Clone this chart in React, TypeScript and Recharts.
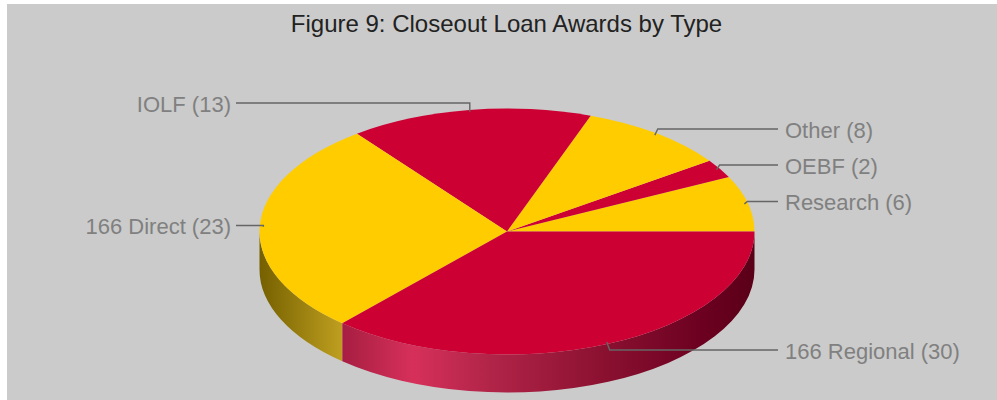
import React from "react";
import { PieChart, Pie } from "recharts";

const categories = ["Research", "OEBF", "Other", "IOLF", "166 Direct", "166 Regional"];
const awards = [6, 2, 8, 13, 23, 30];
const kinds = ["gold", "red", "gold", "red", "gold", "red"];

const rows = categories.map((name, i) => ({ name, value: awards[i], kind: kinds[i] }));

const WIDTH = 990;
const HEIGHT = 396;
const CX = 500;
const CY = 227.5;
const RX = 247.5;
const RY = 123;
const DEPTH = 38;
const RAD = Math.PI / 180;

const TOP_FILL: Record<string, string> = { gold: "#ffcc00", red: "#cc0033" };
const WALL_FILL: Record<string, string> = { gold: "url(#wallGold)", red: "url(#wallRed)" };

// Height of the horizontal run of each leader.
const LEADER_Y: Record<string, number> = {
  Research: 197.5,
  OEBF: 161,
  Other: 125,
  IOLF: 99,
  "166 Direct": 221.5,
  "166 Regional": 346,
};

const px = (deg: number, k = 1) => CX + k * RX * Math.cos(deg * RAD);
const py = (deg: number, k = 1) => CY - k * RY * Math.sin(deg * RAD);

// Elliptical top face plus, where it faces the viewer, the rim below it.
function Slice(props: any) {
  const { startAngle, endAngle, payload } = props;
  const kind = props.kind ?? payload?.kind;
  const large = Math.abs(endAngle - startAngle) > 180 ? 1 : 0;
  const top = `M${CX},${CY} L${px(startAngle)},${py(startAngle)} A${RX},${RY} 0 ${large} 0 ${px(endAngle)},${py(endAngle)} Z`;
  const from = Math.max(startAngle, 180);
  const to = Math.min(endAngle, 360);
  const wall =
    to > from
      ? `M${px(from)},${py(from)} A${RX},${RY} 0 0 0 ${px(to)},${py(to)} L${px(to)},${py(to) + DEPTH} A${RX},${RY} 0 0 1 ${px(from)},${py(from) + DEPTH} Z`
      : null;
  return (
    <g>
      {wall && <path d={wall} fill={WALL_FILL[kind]} stroke="none" />}
      <path d={top} fill={TOP_FILL[kind]} stroke="none" />
    </g>
  );
}

function Caption(props: any) {
  const { midAngle, name, value } = props;
  const ax = px(midAngle, 0.985);
  const ay = py(midAngle, 0.985);
  const ly = LEADER_Y[name];
  const right = ax > CX;
  const bend = right ? ax + 3 : ax;
  const end = right ? 771 : 229;
  return (
    <g>
      <polyline
        points={`${ax},${ay} ${bend},${ly} ${end},${ly}`}
        fill="none"
        stroke="#666666"
        strokeWidth={1.4}
      />
      <text
        x={right ? 778 : 224}
        y={ly + 3}
        textAnchor={right ? "start" : "end"}
        dominantBaseline="middle"
        fontFamily="'Liberation Sans', Arial, sans-serif"
        fontSize={22}
        fill="#808080"
      >
        {`${name} (${value})`}
      </text>
    </g>
  );
}

export default function App() {
  return (
    <div style={{ position: "absolute", left: 7, top: 4, width: WIDTH, height: HEIGHT, background: "#cbcbcb" }}>
      <PieChart width={WIDTH} height={HEIGHT} margin={{ top: 0, right: 0, bottom: 0, left: 0 }}>
        <defs>
          <linearGradient id="wallRed" gradientUnits="userSpaceOnUse" x1={CX - RX} x2={CX + RX} y1={0} y2={0}>
            <stop offset="0.17" stopColor="#a81e42" />
            <stop offset="0.31" stopColor="#d6305a" />
            <stop offset="0.47" stopColor="#b02448" />
            <stop offset="0.7" stopColor="#8a1030" />
            <stop offset="0.9" stopColor="#6b0020" />
            <stop offset="1" stopColor="#5a0018" />
          </linearGradient>
          <linearGradient id="wallGold" gradientUnits="userSpaceOnUse" x1={CX - RX} x2={CX - RX + 84} y1={0} y2={0}>
            <stop offset="0" stopColor="#756000" />
            <stop offset="1" stopColor="#c0a020" />
          </linearGradient>
        </defs>
        <text
          x={499.5}
          y={22}
          textAnchor="middle"
          dominantBaseline="middle"
          fontFamily="'Liberation Sans', Arial, sans-serif"
          fontSize={24}
          fill="#222222"
        >
          Figure 9: Closeout Loan Awards by Type
        </text>
        <Pie
          data={rows}
          dataKey="value"
          nameKey="name"
          cx={CX}
          cy={CY}
          outerRadius={RX}
          innerRadius={0}
          startAngle={0}
          endAngle={360}
          stroke="none"
          isAnimationActive={false}
          shape={Slice}
          label={Caption}
          labelLine={false}
          rootTabIndex={-1}
        />
      </PieChart>
    </div>
  );
}
